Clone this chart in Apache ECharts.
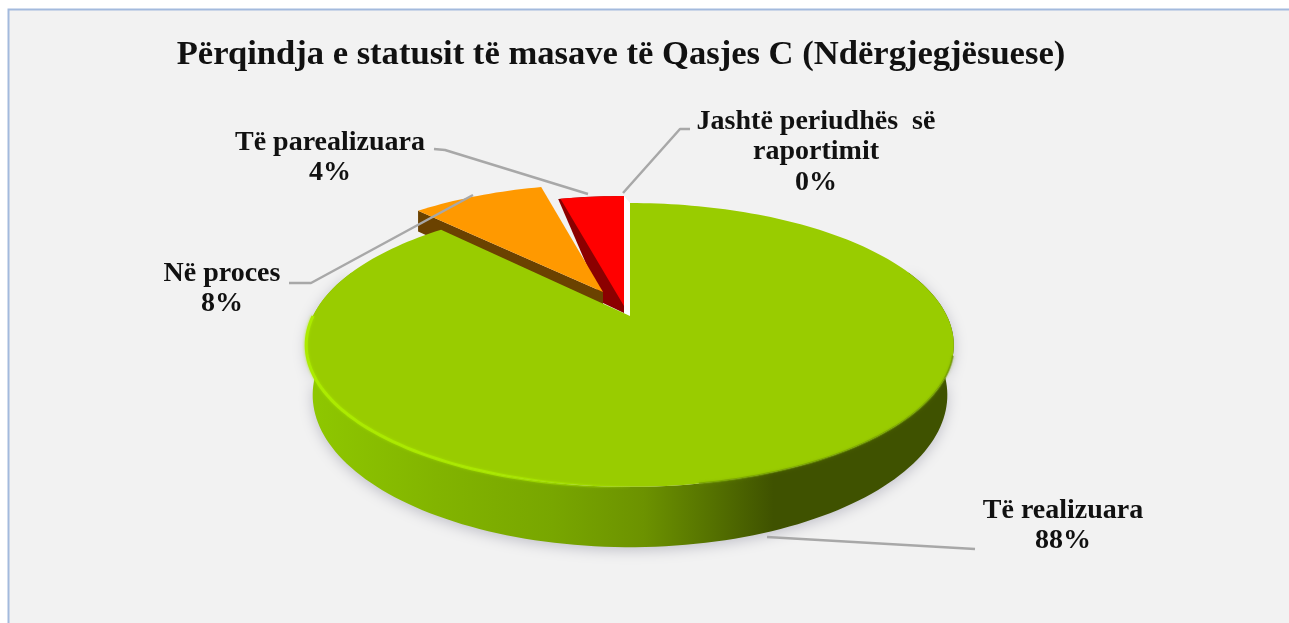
<!DOCTYPE html>
<html>
<head>
<meta charset="utf-8">
<style>html,body{margin:0;padding:0;background:#fff}#c{width:1289px;height:623px}</style>
<script src="https://cdn.jsdelivr.net/npm/echarts@6/dist/echarts.min.js"></script>
</head>
<body>
<div id="c"></div>
<script>
// ---- data ----
const titleText = 'Përqindja e statusit të masave të Qasjes C (Ndërgjegjësuese)';
const categories = ['Të realizuara', 'Në proces', 'Të parealizuara', 'Jashtë periudhës  së\nraportimit'];
const values = [88, 8, 4, 0];

// ---- layout and style ----
const FONT = '"Liberation Serif","Times New Roman",serif';
const PIE = { cx: 630, cy: 316, R: 317, H: 136, k: 0.204, depth: 48, lowScale: 0.98 };
const COLORS = ['#99cc00', '#ff9900', '#ff0000'];
const WALLS = ['#3f5200', '#6b4200', '#8b0000'];
const EXPLODE = [[0, 0], [-23, -19], [-6, -7]];
const ORANGE_APEX_SHIFT = [-4, -5];
const ORANGE_DEPTH = 24;
const LABEL_POS = [[1063, 526], [222, 289], [330, 158], [816, 152]];
const LEADERS = [
  [[767, 537], [975, 549]],
  [[289, 283], [311, 283], [473, 195]],
  [[434, 149], [445, 150], [588, 194]],
  [[690, 129], [680, 129], [623, 193]]
];

// Projects a point of the flat unit disc to the screen with a simple perspective.
function project(u, v, ex, ey, lower, depth, scale) {
  const w = 1 + PIE.k * v;
  let x = PIE.R * u / w;
  let y = -PIE.H * v / w;
  if (lower) { x *= scale; y += depth / w; }
  return [PIE.cx + x + ex, PIE.cy + y + ey];
}
function rim(deg, ex, ey, lower, depth, scale) {
  const a = deg * Math.PI / 180;
  return project(Math.sin(a), Math.cos(a), ex, ey, lower, depth, scale);
}
function arc(a0, a1, ex, ey, lower, depth, scale) {
  const pts = [];
  const n = Math.max(2, Math.ceil(Math.abs(a1 - a0) / 1.5));
  for (let i = 0; i <= n; i++) pts.push(rim(a0 + (a1 - a0) * i / n, ex, ey, lower, depth, scale));
  return pts;
}
function poly(points, fill, z2, extra) {
  return { type: 'polygon', z2, silent: true, shape: { points },
           style: Object.assign({ fill, stroke: null }, extra || {}) };
}
function line(points, stroke, width, z2, extra) {
  return { type: 'polyline', z2, silent: true, shape: { points },
           style: Object.assign({ fill: null, stroke, lineWidth: width, lineJoin: 'round' }, extra || {}) };
}

function renderItem(params, api) {
  const i = params.dataIndex;
  const total = values.reduce((a, b) => a + b, 0);
  let before = 0;
  for (let j = 0; j < i; j++) before += values[j];
  const val = api.value(0);
  const a0 = before / total * 360;
  const a1 = (before + val) / total * 360;
  const ch = [];

  if (val > 0) {
    const [ex, ey] = EXPLODE[i];
    const apex = [PIE.cx + ex, PIE.cy + ey];
    if (i === 0) {
      // outer wall with its soft shadow
      const wallTop = arc(70, 290, 0, 0, false);
      const wallLow = arc(290, 70, 0, 0, true, PIE.depth, PIE.lowScale);
      const wallFill = new echarts.graphic.LinearGradient(307, 0, 955, 0, [
        { offset: 0, color: '#8fc800' }, { offset: 0.2, color: '#82b400' },
        { offset: 0.38, color: '#78a600' }, { offset: 0.52, color: '#6c9200' },
        { offset: 0.62, color: '#567300' }, { offset: 0.72, color: '#3f5200' },
        { offset: 1, color: '#3f5200' }], true);
      ch.push(poly(wallTop.concat(wallLow), wallFill, 50,
        { shadowBlur: 14, shadowColor: 'rgba(60,60,90,0.28)', shadowOffsetX: 0, shadowOffsetY: 3 }));
      ch.push(poly([apex].concat(arc(a0, a1, ex, ey, false)), COLORS[0], 60));
      // rim highlight, left and front
      ch.push(line(arc(180, 270, 0, 0, false), new echarts.graphic.LinearGradient(307, 0, 640, 0, [
        { offset: 0, color: 'rgba(172,235,0,1)' }, { offset: 0.55, color: 'rgba(172,235,0,0.8)' },
        { offset: 1, color: 'rgba(172,235,0,0)' }], true), 3, 70, { shadowBlur: 3, shadowColor: 'rgba(172,235,0,0.7)' }));
      ch.push(line(arc(106, 170, 0, 0, false), 'rgba(110,150,0,0.6)', 2, 70, { shadowBlur: 3, shadowColor: 'rgba(110,150,0,0.6)' }));
    } else if (i === 1) {
      const tip = [apex[0] + ORANGE_APEX_SHIFT[0], apex[1] + ORANGE_APEX_SHIFT[1]];
      const top = [tip].concat(arc(a0, a1, ex, ey, false));
      const sideTop = [tip, rim(a0, ex, ey, false)];
      const sideLow = [rim(a0, ex, ey, true, ORANGE_DEPTH, 1), [tip[0], tip[1] + ORANGE_DEPTH]];
      ch.push(poly(sideTop.concat(sideLow), WALLS[1], 30));
      ch.push(poly(top, COLORS[1], 40));
    } else {
      // the sliver of cut face, then the top of the slice
      const wall = [[apex[0] - 21, apex[1] - 6], [apex[0], apex[1] + 4]].concat(arc(a1, a0, ex, ey, false));
      ch.push(poly(wall, WALLS[2], 10));
      const top = [[apex[0], apex[1] - 3]].concat(arc(a0 + 0.5, a1, ex, ey, false));
      ch.push(poly(top, COLORS[2], 20));
      // light gap between this slice and the first one
      ch.push(poly([rim(a1, ex, ey, false), [apex[0], apex[1] + 4], [PIE.cx, PIE.cy + 1], rim(0, 0, 0, false)], '#ffffff', 5));
    }
  }

  ch.push(line(LEADERS[i], '#a8a8a8', 2.5, 90));
  const pos = LABEL_POS[i];
  ch.push({
    type: 'text', z2: 100, silent: true, x: pos[0], y: pos[1],
    style: {
      text: categories[i] + '\n' + val + '%', font: 'bold 28px ' + FONT, fill: '#111111',
      align: 'center', verticalAlign: 'middle', lineHeight: 30.5
    }
  });
  return { type: 'group', children: ch };
}

const chart = echarts.init(document.getElementById('c'), null, { renderer: 'canvas' });
chart.setOption({
  animation: false,
  backgroundColor: '#ffffff',
  title: {
    text: titleText, left: 616, top: 33, textAlign: 'center',
    textStyle: { fontFamily: FONT, fontWeight: 'bold', fontSize: 34.6, color: '#111111' }
  },
  graphic: [
    { type: 'rect', z: -1, silent: true, shape: { x: 8.5, y: 9.5, width: 1290, height: 630 },
      style: { fill: '#f2f2f2', stroke: '#a3badd', lineWidth: 2 } }
  ],
  series: [{
    type: 'custom', coordinateSystem: 'none', clip: false, silent: true,
    renderItem,
    data: values.map((v, i) => ({ name: categories[i], value: [v] }))
  }]
});
</script>
</body>
</html>
